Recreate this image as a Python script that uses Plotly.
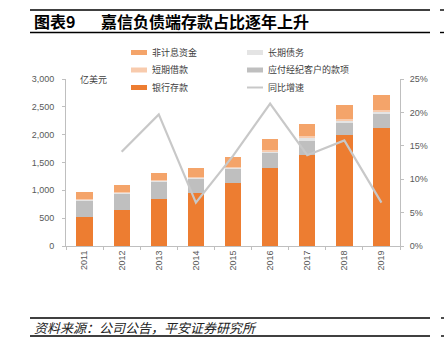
import plotly.graph_objects as go

years = ["2011", "2012", "2013", "2014", "2015", "2016", "2017", "2018", "2019"]
bank_deposits = [513, 645, 844, 952, 1127, 1410, 1639, 1988, 2127]
brokerage_payables = [310, 307, 313, 265, 259, 265, 253, 229, 240]
long_term_debt = [20, 16, 16, 20, 20, 28, 50, 45, 50]
short_term_borrow = [10, 8, 8, 10, 10, 14, 28, 27, 28]
non_interest_funds = [120, 121, 132, 157, 174, 211, 223, 253, 260]
growth = [None, 0.141, 0.197, 0.065, 0.135, 0.213, 0.136, 0.158, 0.065]

left_ticks = [0, 500, 1000, 1500, 2000, 2500, 3000]
left_tick_text = ["0", "500", "1,000", "1,500", "2,000", "2,500", "3,000"]
right_ticks = [0, 0.05, 0.10, 0.15, 0.20, 0.25]
right_tick_text = ["0%", "5%", "10%", "15%", "20%", "25%"]

C_BANK = "#ED7D31"
C_BROKER = "#BFBFBF"
C_LONG = "#E4E4E4"
C_SHORT = "#F8CBAD"
C_NONINT = "#F4A46A"
C_LINE = "#C8C8C8"

W, H = 444, 354
ML, MR, MT, MB = 66, 44, 79, 108
PW, PH = W - ML - MR, H - MT - MB

def px(x):
    return (x - ML) / PW

def py(y):
    return (H - MB - y) / PH

CJK = "Noto Sans CJK SC"
NUM = "Liberation Sans, Arial, sans-serif"

fig = go.Figure()
bw = 0.44
for name, vals, col in [
    ("银行存款", bank_deposits, C_BANK),
    ("应付经纪客户的款项", brokerage_payables, C_BROKER),
    ("长期债务", long_term_debt, C_LONG),
    ("短期借款", short_term_borrow, C_SHORT),
    ("非计息资金", non_interest_funds, C_NONINT),
]:
    fig.add_trace(go.Bar(x=years, y=vals, name=name, marker=dict(color=col, line=dict(width=0)),
                         width=bw, showlegend=False))

fig.add_trace(go.Scatter(x=years, y=growth, name="同比增速", mode="lines", yaxis="y2",
                         line=dict(color=C_LINE, width=2.2), showlegend=False, connectgaps=False))

fig.update_layout(
    width=W, height=H, barmode="stack",
    margin=dict(l=ML, r=MR, t=MT, b=MB),
    paper_bgcolor="white", plot_bgcolor="white",
    showlegend=False,
    xaxis=dict(type="category", showgrid=False, showline=True, linecolor="#BFBFBF", linewidth=1,
               ticks="outside", ticklen=3, tickcolor="#BFBFBF", tickson="boundaries",
               tickangle=-90, tickfont=dict(family=NUM, size=9, color="#595959")),
    yaxis=dict(range=[0, 3000], tickvals=left_ticks, ticktext=left_tick_text, showgrid=False,
               showline=True, linecolor="#BFBFBF", linewidth=1, ticks="outside", ticklen=3,
               tickcolor="#BFBFBF", zeroline=False, ticklabelstandoff=6,
               tickfont=dict(family=NUM, size=9, color="#595959")),
    yaxis2=dict(range=[0, 0.25], tickvals=right_ticks, ticktext=right_tick_text, overlaying="y",
                side="right", showgrid=False, showline=True, linecolor="#BFBFBF", linewidth=1,
                ticks="outside", ticklen=3, tickcolor="#BFBFBF", zeroline=False, ticklabelstandoff=4,
                tickfont=dict(family=NUM, size=9, color="#595959")),
)

shapes = []
annos = []

def hline(x0, x1, y, w=1.4, color="#000000"):
    shapes.append(dict(type="line", xref="paper", yref="paper", x0=px(x0), x1=px(x1),
                       y0=py(y), y1=py(y), line=dict(color=color, width=w)))

def text(x, y, s, size, color="#000000", family=CJK, bold=False, italic=False, anchor="left"):
    if bold:
        s = "<b>" + s + "</b>"
    if italic:
        s = "<i>" + s + "</i>"
    annos.append(dict(xref="paper", yref="paper", x=px(x), y=py(y), text=s, showarrow=False,
                      xanchor=anchor, yanchor="middle",
                      font=dict(family=family, size=size, color=color)))

# title band
hline(30, 430, 10)
hline(30, 430, 32.5)
hline(440, 444, 10)
hline(440, 444, 32.5)
text(32, 21.5, "图表9", 16, bold=True)
text(99, 21.5, "嘉信负债端存款占比逐年上升", 16, bold=True)

# source band
hline(30, 430, 318)
hline(30, 430, 336)
hline(441, 444, 318)
hline(441, 444, 336)
text(32, 327, "资料来源：公司公告，平安证券研究所", 13, color="#222222", italic=True)

# unit
text(78, 79, "亿美元", 9, color="#404040")

# manual legend
def swatch(x0, x1, yc, col):
    shapes.append(dict(type="rect", xref="paper", yref="paper", x0=px(x0), x1=px(x1),
                       y0=py(yc + 2.5), y1=py(yc - 2.5), line=dict(width=0), fillcolor=col))

legend_items = [
    (131, 52.5, C_NONINT, "非计息资金", "rect"),
    (247, 52.5, C_LONG, "长期债务", "rect"),
    (131, 70, C_SHORT, "短期借款", "rect"),
    (247, 70, C_BROKER, "应付经纪客户的款项", "rect"),
    (131, 87.5, C_BANK, "银行存款", "rect"),
    (247, 87.5, C_LINE, "同比增速", "line"),
]
for x0, yc, col, label, kind in legend_items:
    if kind == "rect":
        swatch(x0, x0 + 16, yc, col)
    else:
        shapes.append(dict(type="line", xref="paper", yref="paper", x0=px(x0), x1=px(x0 + 16),
                           y0=py(yc), y1=py(yc), line=dict(color=col, width=2)))
    text(x0 + 18.5, yc, label, 9, color="#404040")

fig.update_layout(shapes=shapes, annotations=annos)
fig.write_html("out.html")
